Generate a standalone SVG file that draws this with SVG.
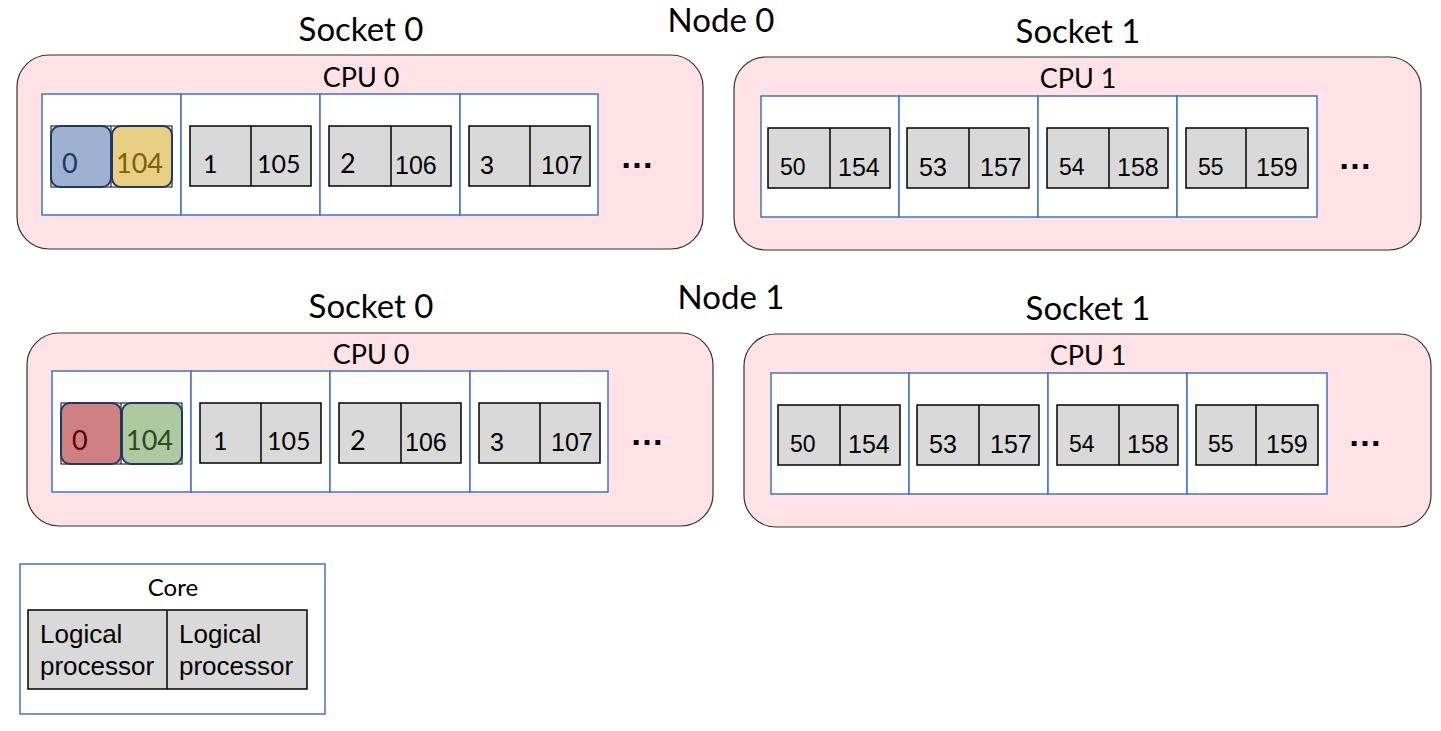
<svg xmlns="http://www.w3.org/2000/svg" width="1441" height="731" viewBox="0 0 1441 731">
<style>
.title{font-family:Lato,"Liberation Sans",sans-serif;font-size:33px;fill:#000;text-anchor:middle}
.cpu{font-family:Lato,"Liberation Sans",sans-serif;font-size:27px;fill:#000;text-anchor:middle}
.sock{fill:#FFE2E5;stroke:#333;stroke-width:1.2}
.core{fill:#fff;stroke:#4472C4;stroke-width:1.5}
.lp{fill:#D9D9D9;stroke:#000;stroke-width:1.5}
.thin{fill:none;stroke:#000;stroke-width:1}
.ca{font-family:Lato,"Liberation Sans",sans-serif;font-size:25px;fill:#000}
.big{font-size:27px}
.ar{font-family:"Liberation Sans",Arial,sans-serif;font-size:25px;fill:#000}
.ar2{font-family:"Liberation Sans",Arial,sans-serif;font-size:23px;fill:#000}
.dots{font-family:"Liberation Sans",Arial,sans-serif;font-size:34px;font-weight:bold;fill:#000}
.leg{font-family:"Liberation Sans",Arial,sans-serif;font-size:26px;fill:#000}
</style>

<g id="node0">
  <text class="title" x="721" y="32">Node 0</text>
  <g id="n0-socket0">
    <text class="title" x="361" y="41">Socket 0</text>
    <rect class="sock" x="17" y="55" width="686" height="194" rx="32"/>
    <text class="cpu" x="361" y="87">CPU 0</text>
    <rect class="core" x="42" y="94" width="139" height="121"/>
    <rect class="core" x="181" y="94" width="139" height="121"/>
    <rect class="core" x="320" y="94" width="140" height="121"/>
    <rect class="core" x="460" y="94" width="138" height="121"/>
    <rect class="thin" x="51" y="126" width="121" height="61"/>
    <line class="thin" x1="111" y1="126" x2="111" y2="187"/>
    <rect x="51" y="126" width="60" height="61" rx="9" fill="#9DB1D1" stroke="#1F3864" stroke-width="2"/>
    <rect x="112" y="126" width="60" height="61" rx="9" fill="#E8CF83" stroke="#1F3864" stroke-width="2"/>
    <text class="ca big" x="62" y="173" style="fill:#1F3864">0</text>
    <text class="ca big" x="116" y="173" style="fill:#7F6000">104</text>
    <rect class="lp" x="190" y="126" width="121" height="60"/>
    <line class="lp" x1="251" y1="126" x2="251" y2="186"/>
    <text class="ca" x="203" y="173">1</text>
    <text class="ca" x="257" y="173">105</text>
    <rect class="lp" x="329" y="126" width="122" height="60"/>
    <line class="lp" x1="391" y1="126" x2="391" y2="186"/>
    <text class="ca big" x="340" y="173">2</text>
    <text class="ar" x="395" y="174">106</text>
    <rect class="lp" x="469" y="126" width="121" height="60"/>
    <line class="lp" x1="530" y1="126" x2="530" y2="186"/>
    <text class="ar" x="480" y="174">3</text>
    <text class="ar" x="541" y="174">107</text>
    <text class="dots" x="620" y="168">…</text>
  </g>
  <g id="n0-socket1">
    <text class="title" x="1078" y="43">Socket 1</text>
    <rect class="sock" x="734" y="57" width="687" height="193" rx="32"/>
    <text class="cpu" x="1078" y="88">CPU 1</text>
    <rect class="core" x="761" y="96" width="138" height="121"/>
    <rect class="core" x="899" y="96" width="139" height="121"/>
    <rect class="core" x="1038" y="96" width="139" height="121"/>
    <rect class="core" x="1177" y="96" width="140" height="121"/>
    <rect class="lp" x="768" y="128" width="122" height="60"/>
    <line class="lp" x1="830" y1="128" x2="830" y2="188"/>
    <text class="ar2" x="780" y="175">50</text>
    <text class="ar" x="838" y="176">154</text>
    <rect class="lp" x="907" y="128" width="122" height="60"/>
    <line class="lp" x1="969" y1="128" x2="969" y2="188"/>
    <text class="ar" x="919" y="176">53</text>
    <text class="ar" x="980" y="176">157</text>
    <rect class="lp" x="1047" y="128" width="121" height="60"/>
    <line class="lp" x1="1109" y1="128" x2="1109" y2="188"/>
    <text class="ar2" x="1059" y="175">54</text>
    <text class="ar" x="1117" y="176">158</text>
    <rect class="lp" x="1186" y="128" width="122" height="60"/>
    <line class="lp" x1="1246" y1="128" x2="1246" y2="188"/>
    <text class="ar2" x="1198" y="175">55</text>
    <text class="ar" x="1256" y="176">159</text>
    <text class="dots" x="1338" y="169">…</text>
  </g>
</g>

<g id="node1" transform="translate(10,277)">
  <text class="title" x="721" y="32">Node 1</text>
  <g id="n1-socket0">
    <text class="title" x="361" y="41">Socket 0</text>
    <rect class="sock" x="17" y="56" width="686" height="193" rx="32"/>
    <text class="cpu" x="361" y="87">CPU 0</text>
    <rect class="core" x="42" y="94" width="139" height="121"/>
    <rect class="core" x="181" y="94" width="139" height="121"/>
    <rect class="core" x="320" y="94" width="140" height="121"/>
    <rect class="core" x="460" y="94" width="138" height="121"/>
    <rect class="thin" x="51" y="126" width="121" height="61"/>
    <line class="thin" x1="111" y1="126" x2="111" y2="187"/>
    <rect x="51" y="126" width="60" height="61" rx="9" fill="#CF8080" stroke="#1F3864" stroke-width="2"/>
    <rect x="112" y="126" width="60" height="61" rx="9" fill="#ADC9A0" stroke="#1F3864" stroke-width="2"/>
    <text class="ca big" x="62" y="173" style="fill:#5C0000">0</text>
    <text class="ca big" x="116" y="173" style="fill:#2B4A1F">104</text>
    <rect class="lp" x="190" y="126" width="121" height="60"/>
    <line class="lp" x1="251" y1="126" x2="251" y2="186"/>
    <text class="ca" x="203" y="173">1</text>
    <text class="ca" x="257" y="173">105</text>
    <rect class="lp" x="329" y="126" width="122" height="60"/>
    <line class="lp" x1="391" y1="126" x2="391" y2="186"/>
    <text class="ca big" x="340" y="173">2</text>
    <text class="ar" x="395" y="174">106</text>
    <rect class="lp" x="469" y="126" width="121" height="60"/>
    <line class="lp" x1="530" y1="126" x2="530" y2="186"/>
    <text class="ar" x="480" y="174">3</text>
    <text class="ar" x="541" y="174">107</text>
    <text class="dots" x="620" y="168">…</text>
  </g>
  <g id="n1-socket1">
    <text class="title" x="1078" y="43">Socket 1</text>
    <rect class="sock" x="734" y="57" width="687" height="193" rx="32"/>
    <text class="cpu" x="1078" y="88">CPU 1</text>
    <rect class="core" x="761" y="96" width="138" height="121"/>
    <rect class="core" x="899" y="96" width="139" height="121"/>
    <rect class="core" x="1038" y="96" width="139" height="121"/>
    <rect class="core" x="1177" y="96" width="140" height="121"/>
    <rect class="lp" x="768" y="128" width="122" height="60"/>
    <line class="lp" x1="830" y1="128" x2="830" y2="188"/>
    <text class="ar2" x="780" y="175">50</text>
    <text class="ar" x="838" y="176">154</text>
    <rect class="lp" x="907" y="128" width="122" height="60"/>
    <line class="lp" x1="969" y1="128" x2="969" y2="188"/>
    <text class="ar" x="919" y="176">53</text>
    <text class="ar" x="980" y="176">157</text>
    <rect class="lp" x="1047" y="128" width="121" height="60"/>
    <line class="lp" x1="1109" y1="128" x2="1109" y2="188"/>
    <text class="ar2" x="1059" y="175">54</text>
    <text class="ar" x="1117" y="176">158</text>
    <rect class="lp" x="1186" y="128" width="122" height="60"/>
    <line class="lp" x1="1246" y1="128" x2="1246" y2="188"/>
    <text class="ar2" x="1198" y="175">55</text>
    <text class="ar" x="1256" y="176">159</text>
    <text class="dots" x="1338" y="169">…</text>
  </g>
</g>

<g id="legend">
  <rect class="core" x="20" y="564" width="305" height="150"/>
  <text class="ca" x="173" y="596" text-anchor="middle" style="font-size:24px">Core</text>
  <rect class="lp" x="28" y="610" width="279" height="79"/>
  <line class="lp" x1="167" y1="610" x2="167" y2="689"/>
  <text class="leg" x="40" y="643">Logical</text>
  <text class="leg" x="40" y="675">processor</text>
  <text class="leg" x="179" y="643">Logical</text>
  <text class="leg" x="179" y="675">processor</text>
</g>
</svg>
